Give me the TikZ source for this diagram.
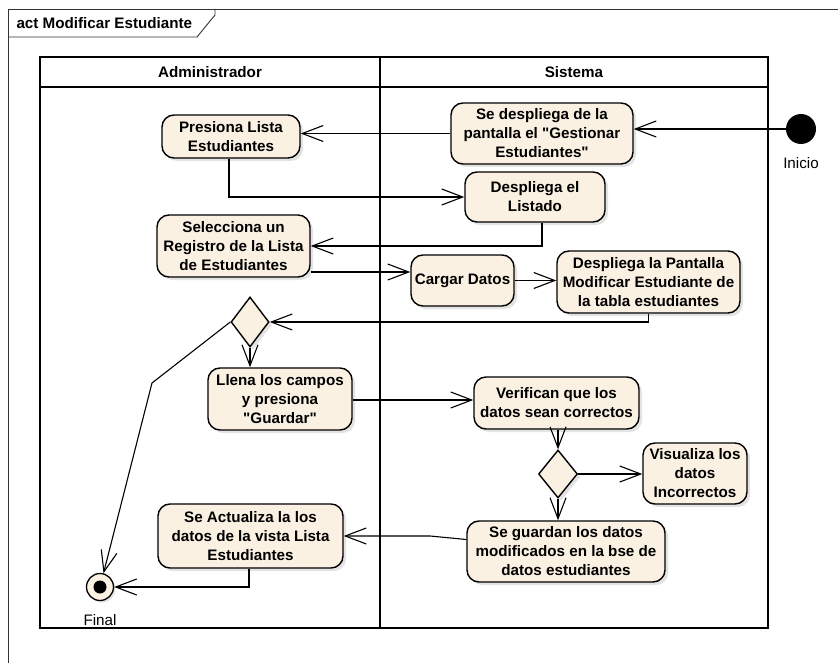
\documentclass[tikz,border=0pt]{standalone}
\usepackage{fontspec}
\setmainfont{Liberation Sans}
\usetikzlibrary{shapes.geometric,arrows.meta,shadows}
\definecolor{actfill}{RGB}{251,241,227}
\newcommand\qt{\XeTeXglyph\XeTeXglyphindex "quotedbl"\relax}

\begin{document}
\begin{tikzpicture}[
    x=1pt, y=-1pt,
    every node/.style={font=\fontsize{15.2}{19}\selectfont},
    act/.style={draw, rectangle, rounded corners=12pt, fill=actfill, line width=1.4pt,
                align=center, inner sep=2pt,
                font=\fontsize{15.2}{19}\selectfont\bfseries,
                drop shadow={shadow xshift=3pt, shadow yshift=-3pt, fill=black!22}},
    decision/.style={draw, diamond, fill=actfill, line width=1.4pt, inner sep=0pt,
                     minimum width=38pt, minimum height=50pt,
                     drop shadow={shadow xshift=3pt, shadow yshift=-3pt, fill=black!22}},
    flow/.style={-{Straight Barb[length=21pt, width=16pt]}, line width=1.1pt},
    lane/.style={line width=1.5pt},
    head/.style={font=\fontsize{15.2}{19}\selectfont\bfseries},
]
\useasboundingbox (0,0) rectangle (838,663);
\clip (0,0) rectangle (838,663);

%% Frame and title tab
\draw[line width=0.9pt, black!80] (8,680) -- (8,9) -- (850,9);
\draw[line width=0.9pt, black!80] (8,37) -- (197,37) -- (215,15) -- (215,9);
\node[head, anchor=west] (title) at (13,23) {act Modificar Estudiante};

%% Swimlanes
\draw[lane] (40,57) rectangle (768,628);
\draw[lane] (40,87) -- (768,87);
\draw[lane] (380,57) -- (380,628);
\node[head] (admin)   at (210,72) {Administrador};
\node[head] (sistema) at (574,72) {Sistema};

%% Start and end
\node[circle, fill=black, minimum size=30pt, inner sep=0pt] (inicio) at (801,129) {};
\node (inicioLbl) at (801,163) {Inicio};
\node[circle, draw, fill=actfill, line width=1.3pt, minimum size=27pt, inner sep=0pt,
      drop shadow={shadow xshift=2pt, shadow yshift=-2pt, fill=black!22}] (final) at (100,587) {};
\fill (final.center) circle (6.5);
\node (finalLbl) at (100,620) {Final};

%% Activities
\node[act, minimum width=138pt, minimum height=43pt] (presiona)   at (231,136.5) {Presiona Lista\\Estudiantes};
\node[act, minimum width=182pt, minimum height=61pt] (gestionar)  at (542,133.5) {Se despliega de la\\pantalla el \qt Gestionar\\Estudiantes\qt};
\node[act, minimum width=140pt, minimum height=50pt] (listado)    at (535,197)   {Despliega el\\Listado};
\node[act, minimum width=153pt, minimum height=62pt] (selecciona) at (233.5,246) {Selecciona un\\Registro de la Lista\\de Estudiantes};
\node[act, minimum width=103pt, minimum height=51pt] (cargar)     at (462.5,280.5) {Cargar Datos};
\node[act, minimum width=183pt, minimum height=62pt] (pantalla)   at (648.5,282) {Despliega la Pantalla\\Modificar Estudiante de\\la tabla estudiantes};
\node[decision] (dec1) at (250,322) {};
\node[act, minimum width=144pt, minimum height=62pt] (llena)      at (280,399)   {Llena los campos\\y presiona\\\qt Guardar\qt};
\node[act, minimum width=165pt, minimum height=52pt] (verifican)  at (556.5,403) {Verifican que los\\datos sean correctos};
\node[decision, minimum width=39pt, minimum height=48pt] (dec2) at (558,474) {};
\node[act, minimum width=104pt, minimum height=61pt] (visualiza)  at (695,473.5) {Visualiza los\\datos\\Incorrectos};
\node[act, minimum width=198pt, minimum height=61pt] (guardan)    at (566,551.5) {Se guardan los datos\\modificados en la bse de\\datos estudiantes};
\node[act, minimum width=185pt, minimum height=64pt] (actualiza)  at (250.5,536) {Se Actualiza la los\\datos de la vista Lista\\Estudiantes};

\coordinate (bendF) at (152,383);
\coordinate (kink)  at (430,536);

%% Control flows
\draw[flow] (inicio) -- (inicio -| gestionar.east);
\draw[flow] (gestionar.west) -- (gestionar.west -| presiona.east);
\draw[flow] ([xshift=-2pt]presiona.south) |- (listado.west);
\draw[flow] ([xshift=7pt]listado.south) |- (selecciona.east);
\draw[flow] ([yshift=-26pt]selecciona.east) -- ([yshift=-26pt]selecciona.east -| cargar.west);
\draw[flow] (cargar.east) -- (cargar.east -| pantalla.west);
\draw[flow] (pantalla.south) |- (dec1.east);
\draw[flow] (dec1.south) -- (dec1.south |- llena.north);
\draw[flow] (dec1.west) -- (bendF) -- (final);
\draw[flow] ([yshift=-1pt]llena.east) -- ([yshift=-1pt]llena.east -| verifican.west);
\draw[flow] (dec2.north |- verifican.south) -- (dec2.north);
\draw[flow] (dec2.east) -- (dec2.east -| visualiza.west);
\draw[flow] (dec2.south) -- (dec2.south |- guardan.north);
\draw[flow] ([yshift=12pt]guardan.west) -- (kink) -- (kink -| actualiza.east);
\draw[flow] ([xshift=-1.5pt]actualiza.south) |- (final.east);

\end{tikzpicture}
\end{document}
